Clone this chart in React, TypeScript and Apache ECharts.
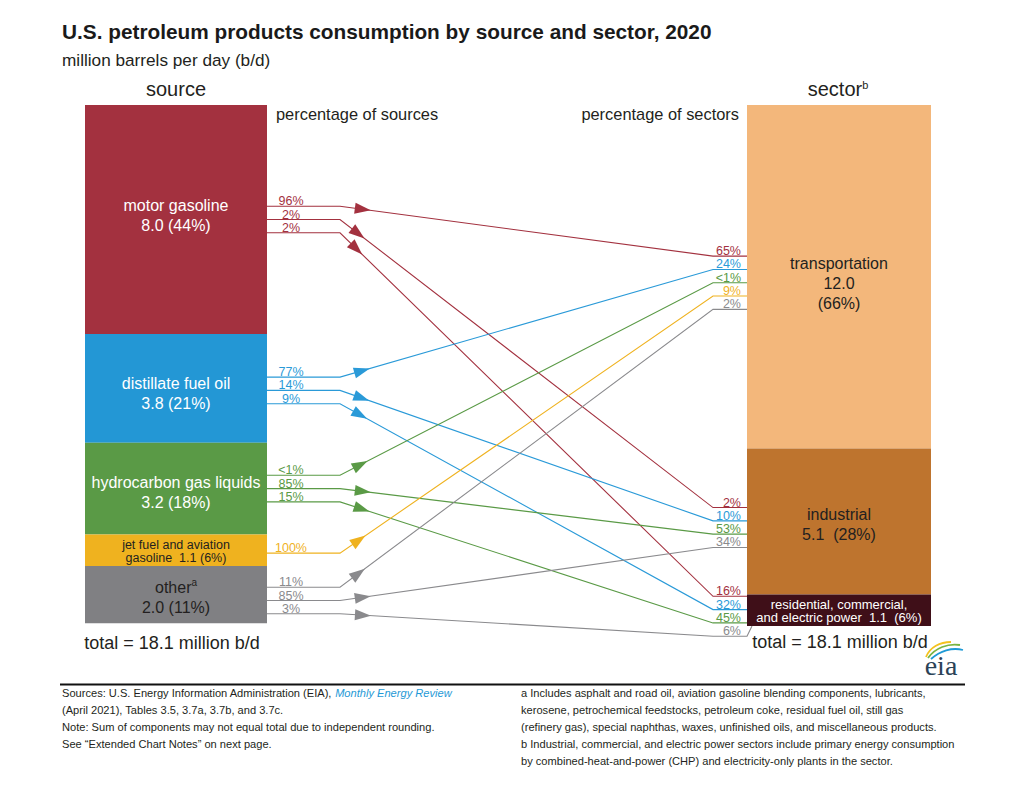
import React, { useEffect, useRef } from "react";
import * as echarts from "echarts";

// ---------------- data ----------------
const sources = [
  "motor gasoline",
  "distillate fuel oil",
  "hydrocarbon gas liquids",
  "jet fuel and aviation\ngasoline",
  "other",
];
const sourceValues = [8.0, 3.8, 3.2, 1.1, 2.0];
const sourceShares = [44, 21, 18, 6, 11];
const sourceNotes = ["", "", "", "", "a"];

const sectors = ["transportation", "industrial", "residential, commercial,\nand electric power"];
const sectorValues = [12.0, 5.1, 1.1];
const sectorShares = [66, 28, 6];

// flows: source index -> sector index
const flowFrom = [0, 0, 0, 1, 1, 1, 2, 2, 2, 3, 4, 4, 4];
const flowTo = [0, 1, 2, 0, 1, 2, 0, 1, 2, 0, 0, 1, 2];
const pctOfSource = ["96%", "2%", "2%", "77%", "14%", "9%", "<1%", "85%", "15%", "100%", "11%", "85%", "3%"];
const pctOfSector = ["65%", "2%", "16%", "24%", "10%", "32%", "<1%", "53%", "45%", "9%", "2%", "34%", "6%"];

const totalLabel = "total = 18.1 million b/d";

// ---------------- styles / layout ----------------
const FONT = "'Liberation Sans', Arial, Helvetica, sans-serif";
const SOURCE_COLORS = ["#a3313f", "#2397d5", "#5a9a46", "#efb21f", "#808083"];
const SOURCE_TEXT = ["#ffffff", "#ffffff", "#ffffff", "#231f20", "#231f20"];
const LINE_COLORS = ["#a3313f", "#2a9ad8", "#5a9a46", "#efb21f", "#8a8a8d"];
const SECTOR_COLORS = ["#f3b77b", "#be742e", "#3f0f18"];
const SECTOR_TEXT = ["#231f20", "#231f20", "#ffffff"];

const SRC_W = 182;
const SEC_W = 184;
const SRC_BEND = 73;
const SEC_BEND = 34;
const LINE_GAP = 13.3;
const SRC_OFF = [0, 2, 0, 3, 6];
const SRC_LABEL_OFF = [-4, 5, 4, 1, 3];
const SEC_OFF = 6;

const cum = (arr: number[]) => {
  const out: number[] = [];
  let s = 0;
  arr.forEach((v) => {
    out.push(s);
    s += v;
  });
  return out;
};
const srcStart = cum(sourceValues);
const secStart = cum(sectorValues);
const yMax = Math.max(
  sourceValues.reduce((a, b) => a + b, 0),
  sectorValues.reduce((a, b) => a + b, 0)
);

const srcIdx: number[] = [];
const secIdx: number[] = [];
const srcN = sources.map(() => 0);
const secN = sectors.map(() => 0);
flowFrom.forEach((s, k) => {
  srcIdx.push(srcN[s]++);
  const t = flowTo[k];
  secIdx.push(secN[t]++);
});

function sourceText(i: number, h: number) {
  const v = sourceValues[i].toFixed(1);
  const note = sourceNotes[i] ? `{sup|${sourceNotes[i]}}` : "";
  if (h < 40) return `${sources[i]}  ${v} (${sourceShares[i]}%)`;
  return `${sources[i]}${note}\n${v} (${sourceShares[i]}%)`;
}
function sectorText(i: number, h: number) {
  const v = sectorValues[i].toFixed(1);
  if (h < 40) return `${sectors[i]}  ${v}  (${sectorShares[i]}%)`;
  if (h > 200) return `${sectors[i]}\n${v}\n(${sectorShares[i]}%)`;
  return `${sectors[i]}\n${v}  (${sectorShares[i]}%)`;
}

function T(x: number, y: number, text: string, size: number, o: any = {}) {
  return {
    type: "text",
    x,
    y,
    silent: true,
    style: {
      text,
      fontSize: size,
      fontFamily: o.family || FONT,
      fontWeight: o.bold ? "bold" : "normal",
      fontStyle: o.italic ? "italic" : "normal",
      fill: o.fill || "#231f20",
      align: o.align || "left",
      verticalAlign: o.va || "middle",
      rich: o.rich,
    },
  };
}

export default function App() {
  const ref = useRef<HTMLDivElement>(null);
  useEffect(() => {
    if (!ref.current) return;
    const chart = echarts.init(ref.current, undefined, { renderer: "svg" });

    const sourceSeries = {
      type: "custom",
      coordinateSystem: "cartesian2d",
      clip: false,
      silent: true,
      data: sourceValues.map((v, i) => [i, v]),
      renderItem: (params: any, api: any) => {
        const i = params.dataIndex;
        const cs = params.coordSys;
        const y0 = api.coord([0, srcStart[i]])[1];
        const y1 = api.coord([0, srcStart[i] + sourceValues[i]])[1];
        const h = y1 - y0;
        const small = h < 40;
        return {
          type: "group",
          children: [
            {
              type: "rect",
              shape: { x: cs.x, y: y0, width: SRC_W, height: h },
              style: { fill: SOURCE_COLORS[i] },
            },
            {
              type: "text",
              style: {
                text: sourceText(i, h),
                x: cs.x + SRC_W / 2,
                y: (y0 + y1) / 2 + SRC_LABEL_OFF[i],
                align: "center",
                verticalAlign: "middle",
                fill: SOURCE_TEXT[i],
                fontSize: small ? 12.5 : 16,
                lineHeight: small ? 13 : 20,
                fontFamily: FONT,
                rich: {
                  sup: { fontSize: 10, verticalAlign: "top", fill: SOURCE_TEXT[i], fontFamily: FONT, lineHeight: 20 },
                },
              },
            },
          ],
        };
      },
    };

    const sectorSeries = {
      type: "custom",
      coordinateSystem: "cartesian2d",
      clip: false,
      silent: true,
      data: sectorValues.map((v, i) => [i, v]),
      renderItem: (params: any, api: any) => {
        const i = params.dataIndex;
        const cs = params.coordSys;
        const x0 = cs.x + cs.width - SEC_W;
        const y0 = api.coord([0, secStart[i]])[1];
        const y1 = api.coord([0, secStart[i] + sectorValues[i]])[1];
        const h = y1 - y0;
        const small = h < 40;
        return {
          type: "group",
          children: [
            {
              type: "rect",
              shape: { x: x0, y: y0, width: SEC_W, height: h },
              style: { fill: SECTOR_COLORS[i] },
            },
            {
              type: "text",
              style: {
                text: sectorText(i, h),
                x: x0 + SEC_W / 2,
                y: (y0 + y1) / 2 + (small ? 1 : h > 200 ? 7 : 3),
                align: "center",
                verticalAlign: "middle",
                fill: SECTOR_TEXT[i],
                fontSize: small ? 13 : 16,
                lineHeight: small ? 13 : 20,
                fontFamily: FONT,
              },
            },
          ],
        };
      },
    };

    const flowSeries = {
      type: "custom",
      coordinateSystem: "cartesian2d",
      clip: false,
      silent: true,
      data: flowFrom.map((s, k) => [k, s]),
      renderItem: (params: any, api: any) => {
        const k = params.dataIndex;
        const s = flowFrom[k];
        const t = flowTo[k];
        const cs = params.coordSys;
        const xs0 = cs.x + SRC_W;
        const xsB = xs0 + SRC_BEND;
        const xe0 = cs.x + cs.width - SEC_W;
        const xeB = xe0 - SEC_BEND;
        const ys =
          api.coord([0, srcStart[s] + sourceValues[s] / 2])[1] +
          (srcIdx[k] - (srcN[s] - 1) / 2) * LINE_GAP +
          SRC_OFF[s];
        const ye =
          api.coord([0, secStart[t] + sectorValues[t] / 2])[1] +
          (secIdx[k] - (secN[t] - 1) / 2) * LINE_GAP +
          SEC_OFF;
        const barBottom = api.coord([0, secStart[t] + sectorValues[t]])[1];
        const pts: number[][] = [
          [xs0, ys],
          [xsB, ys],
          [xeB, ye],
          [xe0, ye],
        ];
        if (ye > barBottom) pts.push([xe0 + 5, barBottom]);
        const dx = xeB - xsB;
        const dy = ye - ys;
        const len = Math.sqrt(dx * dx + dy * dy);
        const ux = dx / len;
        const uy = dy / len;
        const tip = [xsB + ux * 31, ys + uy * 31];
        const base = [xsB + ux * 15, ys + uy * 15];
        const nx = -uy * 5.5;
        const ny = ux * 5.5;
        const col = LINE_COLORS[s];
        return {
          type: "group",
          children: [
            {
              type: "polyline",
              shape: { points: pts },
              style: { stroke: col, lineWidth: 1.1, fill: "none" },
            },
            {
              type: "polygon",
              shape: {
                points: [tip, [base[0] + nx, base[1] + ny], [base[0] - nx, base[1] - ny]],
              },
              style: { fill: col },
            },
            {
              type: "text",
              style: {
                text: pctOfSource[k],
                x: xs0 + 24,
                y: ys + 1.5,
                align: "center",
                verticalAlign: "bottom",
                fill: col,
                fontSize: 12.5,
                fontFamily: FONT,
              },
            },
            {
              type: "text",
              style: {
                text: pctOfSector[k],
                x: xe0 - 6,
                y: ye + 1.5,
                align: "right",
                verticalAlign: "bottom",
                fill: col,
                fontSize: 12.5,
                fontFamily: FONT,
              },
            },
          ],
        };
      },
    };

    const fnSize = 11.1;
    const graphic: any[] = [
      T(62, 31, "U.S. petroleum products consumption by source and sector, 2020", 20.8, { bold: true, fill: "#1a1a1a" }),
      T(62, 60, "million barrels per day (b/d)", 17.2),
      T(176, 89, "source", 20, { align: "center" }),
      T(838, 89, "sector{sup|b}", 20, {
        align: "center",
        rich: { sup: { fontSize: 11, verticalAlign: "top", fontFamily: FONT, fill: "#231f20" } },
      }),
      T(276, 114, "percentage of sources", 16.4),
      T(739, 114, "percentage of sectors", 16.4, { align: "right" }),
      T(172, 643, totalLabel, 18, { align: "center" }),
      T(840, 642, totalLabel, 18, { align: "center" }),
      {
        type: "line",
        silent: true,
        shape: { x1: 60, y1: 684.5, x2: 965, y2: 684.5 },
        style: { stroke: "#111111", lineWidth: 2 },
      },
      // eia logo
      {
        type: "bezierCurve",
        silent: true,
        shape: { x1: 926, y1: 657, cpx1: 930, cpy1: 647, cpx2: 940, cpy2: 642, x2: 951, y2: 642 },
        style: { stroke: "#f4c21d", lineWidth: 1.8, fill: "none" },
      },
      {
        type: "bezierCurve",
        silent: true,
        shape: { x1: 928, y1: 658, cpx1: 935, cpy1: 648, cpx2: 948, cpy2: 643, x2: 960, y2: 645 },
        style: { stroke: "#79b443", lineWidth: 1.8, fill: "none" },
      },
      {
        type: "bezierCurve",
        silent: true,
        shape: { x1: 931, y1: 659, cpx1: 940, cpy1: 651, cpx2: 952, cpy2: 647, x2: 963, y2: 650 },
        style: { stroke: "#1e9ad6", lineWidth: 1.8, fill: "none" },
      },
      T(941, 665, "eia", 28, { align: "center", family: "'Liberation Serif', 'DejaVu Serif', serif", fill: "#2b4257" }),
      // footnotes
      T(62, 693, "Sources: U.S. Energy Information Administration (EIA), {i|Monthly Energy Review}", fnSize, {
        rich: { i: { fontStyle: "italic", fill: "#1f9ad6", fontSize: fnSize, fontFamily: FONT } },
      }),
      T(62, 710, "(April 2021), Tables 3.5, 3.7a, 3.7b, and 3.7c.", fnSize),
      T(62, 727, "Note: Sum of components may not equal total due to independent rounding.", fnSize),
      T(62, 744, "See \u201cExtended Chart Notes\u201d on next page.", fnSize),
      T(521, 693, "a Includes asphalt and road oil, aviation gasoline blending components, lubricants,", fnSize),
      T(521, 710, "kerosene, petrochemical feedstocks, petroleum coke, residual fuel oil, still gas", fnSize),
      T(521, 727, "(refinery gas), special naphthas, waxes, unfinished oils, and miscellaneous products.", fnSize),
      T(521, 744, "b Industrial, commercial, and electric power sectors include primary energy consumption", fnSize),
      T(521, 761, "by combined-heat-and-power (CHP) and electricity-only plants in the sector.", fnSize),
    ];

    chart.setOption({
      animation: false,
      backgroundColor: "#ffffff",
      grid: { left: 85, top: 105, width: 846, height: 521, containLabel: false },
      xAxis: { type: "value", min: 0, max: 1, show: false },
      yAxis: { type: "value", min: 0, max: yMax, inverse: true, show: false },
      series: [flowSeries, sourceSeries, sectorSeries],
      graphic,
    });

    return () => chart.dispose();
  }, []);

  return (
    <div
      ref={ref}
      style={{ position: "absolute", left: 0, top: 0, width: 1020, height: 788 }}
    />
  );
}
